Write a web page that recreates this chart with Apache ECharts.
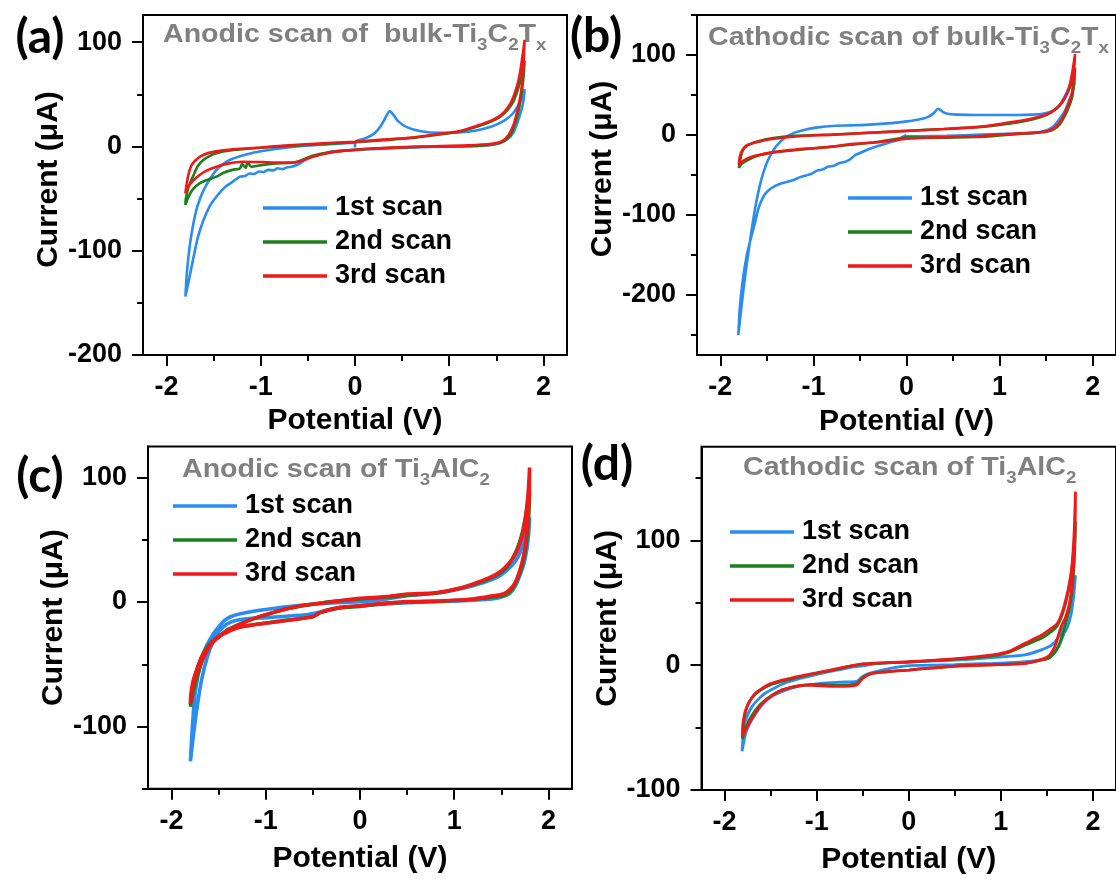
<!DOCTYPE html>
<html>
<head>
<meta charset="utf-8">
<title>Cyclic voltammetry scans</title>
<script src="https://cdn.jsdelivr.net/npm/echarts@6.0.0/dist/echarts.min.js"></script>
<style>
  html, body { margin: 0; padding: 0; background: #fff; }
  #chart { width: 1116px; height: 879px; }
</style>
</head>
<body>
<div id="chart"></div>
<script>
// ---- data (potential V, current uA), in scan order ----
const scanNames = ['1st scan', '2nd scan', '3rd scan'];
const scanColors = ['#2A8CF0', '#1B7F1B', '#F01818'];

const xMajorTicks = [-2, -1, 0, 1, 2];
const xMinorTicks = [-1.5, -0.5, 0.5, 1.5];

const aYMajor = [-200, -100, 0, 100];
const aYMinor = [-150, -50, 50];
const bYMajor = [-200, -100, 0, 100];
const bYMinor = [-250, -150, -50, 50, 150];
const cYMajor = [-100, 0, 100];
const cYMinor = [-150, -50, 50];
const dYMajor = [-100, 0, 100];
const dYMinor = [-50, 50, 150];

// (a) anodic scan, bulk Ti3C2Tx
const aScan1 = [
  [0, -1], [0.01, 5], [0.1, 7.5], [0.2, 12], [0.27, 19], [0.32, 27], [0.37, 34], [0.41, 30], [0.46, 24],
  [0.55, 18.5], [0.7, 14.5], [0.9, 13], [1.1, 13.3], [1.3, 15.5], [1.45, 19], [1.55, 23], [1.62, 27],
  [1.68, 32], [1.73, 39], [1.77, 47], [1.8, 55],
  [1.79, 45], [1.76, 33], [1.72, 22], [1.68, 13], [1.62, 7], [1.55, 3.5], [1.45, 1.5], [1.2, 0.3],
  [0.9, -0.3], [0.5, -1.5], [0.1, -3], [-0.2, -4.5], [-0.3, -6], [-0.4, -8.5], [-0.51, -11.4],
  [-0.57, -15.5], [-0.62, -17.8], [-0.67, -19.5], [-0.72, -20], [-0.77, -21.8], [-0.82, -21],
  [-0.87, -23], [-0.92, -22.5], [-0.97, -24.5], [-1.02, -24], [-1.07, -26.5], [-1.12, -26],
  [-1.17, -28.5], [-1.22, -29], [-1.3, -34], [-1.38, -39], [-1.47, -48], [-1.54, -57], [-1.61, -71],
  [-1.67, -88], [-1.72, -109], [-1.76, -127], [-1.8, -144],
  [-1.785, -122], [-1.755, -96], [-1.72, -76], [-1.684, -61], [-1.64, -49], [-1.596, -40], [-1.53, -30],
  [-1.47, -22.6], [-1.4, -17], [-1.33, -13], [-1.22, -9.5], [-1.1, -6.5], [-0.95, -4], [-0.8, -2],
  [-0.5, 0.8], [-0.2, 2.5], [0, 3.5]
];
const aScan2 = [
  [0, 4], [0.3, 6], [0.6, 8], [0.9, 11.5], [1.1, 14], [1.3, 19], [1.45, 24], [1.55, 29], [1.62, 35],
  [1.68, 43], [1.73, 55], [1.77, 68], [1.8, 82],
  [1.79, 68], [1.77, 52], [1.74, 36], [1.7, 22], [1.65, 11], [1.58, 5], [1.48, 2], [1.3, 0.5], [1.0, 0],
  [0.6, -0.5], [0.2, -2], [-0.1, -4], [-0.3, -6], [-0.45, -9], [-0.55, -12.5], [-0.65, -15.5],
  [-0.87, -16.5], [-1.0, -18], [-1.1, -19.5], [-1.14, -15.5], [-1.16, -20.5], [-1.2, -17], [-1.22, -21],
  [-1.3, -22.5], [-1.4, -25.5], [-1.47, -29], [-1.58, -32.5], [-1.65, -35.5], [-1.72, -41], [-1.77, -49],
  [-1.8, -56],
  [-1.795, -50], [-1.77, -40], [-1.745, -34], [-1.72, -29], [-1.67, -19], [-1.61, -13], [-1.54, -9],
  [-1.47, -6.5], [-1.35, -4.2], [-1.2, -2.7], [-1.0, -1.3], [-0.7, 0.5], [-0.4, 2], [0, 4]
];
const aScan3 = [
  [0, 4.5], [0.3, 6.5], [0.6, 8.5], [0.9, 12], [1.1, 14.5], [1.3, 20], [1.45, 25], [1.55, 30], [1.62, 37],
  [1.67, 45], [1.72, 58], [1.75, 70], [1.78, 88], [1.8, 102],
  [1.79, 82], [1.775, 62], [1.755, 48], [1.72, 33], [1.68, 20], [1.63, 11], [1.56, 5], [1.45, 2.5],
  [1.2, 1], [0.8, 0], [0.4, -1], [0.1, -2.5], [-0.2, -5], [-0.35, -7.5], [-0.45, -10], [-0.52, -12.5],
  [-0.62, -15], [-0.8, -15.5], [-1.0, -15], [-1.2, -14.7], [-1.35, -16.5], [-1.47, -19.4], [-1.57, -23],
  [-1.65, -27.4], [-1.72, -33], [-1.77, -38.6], [-1.8, -45],
  [-1.79, -38], [-1.77, -28], [-1.74, -19], [-1.7, -14], [-1.64, -9.5], [-1.55, -6.2], [-1.4, -3.8],
  [-1.25, -2.5], [-1.0, -1], [-0.7, 1], [-0.34, 3], [0, 4.5]
];

// (b) cathodic scan, bulk Ti3C2Tx
const bScan1 = [
  [0, 0], [-0.05, -3], [-0.1, -6.3], [-0.2, -10], [-0.3, -13.5], [-0.4, -17.5], [-0.48, -21.5],
  [-0.55, -25], [-0.6, -30], [-0.656, -33.5], [-0.72, -35], [-0.78, -38.5], [-0.84, -39.5], [-0.9, -43],
  [-0.96, -44.5], [-1.02, -48.5], [-1.08, -50.5], [-1.15, -53], [-1.22, -56.6], [-1.3, -59], [-1.38, -62],
  [-1.43, -65], [-1.49, -70], [-1.54, -77.6], [-1.59, -92], [-1.63, -111], [-1.68, -133], [-1.72, -153],
  [-1.76, -183], [-1.79, -216], [-1.806, -250],
  [-1.78, -222], [-1.753, -195], [-1.72, -165], [-1.68, -132], [-1.645, -105], [-1.61, -82],
  [-1.575, -63], [-1.54, -48], [-1.49, -32], [-1.43, -19], [-1.36, -9], [-1.29, -2], [-1.2, 3],
  [-1.08, 7], [-0.95, 9.5], [-0.8, 11.3], [-0.6, 12], [-0.44, 12.6], [-0.2, 14.5], [0, 17], [0.12, 19],
  [0.22, 22], [0.29, 27], [0.34, 32.8], [0.39, 29], [0.44, 26.5], [0.55, 25.5], [0.75, 25], [1.0, 25],
  [1.2, 25], [1.35, 25.5], [1.46, 26.5], [1.55, 29], [1.62, 34], [1.67, 42], [1.72, 53], [1.76, 63],
  [1.79, 72], [1.806, 78],
  [1.8, 62], [1.78, 52], [1.75, 44.5], [1.7, 30], [1.64, 19.3], [1.58, 11], [1.52, 6.7], [1.4, 3],
  [1.185, 1.7], [0.8, 0.5], [0.43, -1], [0.15, -1.5], [0, -1.7]
];
const bScan2 = [
  [0, -3], [-0.3, -8.5], [-0.7, -13.5], [-1.07, -17.5], [-1.45, -22], [-1.6, -26], [-1.7, -31],
  [-1.77, -36], [-1.8, -41],
  [-1.79, -33], [-1.76, -20], [-1.71, -13], [-1.6, -8], [-1.45, -4], [-1.2, -1], [-0.8, 0.5],
  [-0.3, 3.5], [0.4, 7.5], [0.8, 10], [1.1, 14], [1.3, 18], [1.46, 23], [1.56, 29], [1.64, 36],
  [1.7, 46], [1.75, 58], [1.79, 72], [1.81, 84],
  [1.8, 66], [1.78, 48], [1.74, 34], [1.7, 24], [1.65, 14], [1.58, 7], [1.5, 4], [1.39, 3], [1.1, 0.5],
  [0.756, -2.5], [0.3, -3.5], [0, -3]
];
const bScan3 = [
  [0, -4.5], [-0.306, -9], [-0.62, -11.5], [-0.8, -14.7], [-1.07, -17], [-1.3, -19.5], [-1.5, -23],
  [-1.67, -27.5], [-1.75, -32], [-1.8, -37],
  [-1.79, -27], [-1.76, -18], [-1.71, -12.5], [-1.575, -8], [-1.45, -5], [-1.33, -3.4], [-1.07, -1],
  [-0.8, 0.4], [-0.306, 3.3], [0.4, 7.5], [0.8, 10.5], [1.11, 15.8], [1.3, 19.5], [1.46, 24],
  [1.56, 29], [1.64, 36.6], [1.7, 46], [1.746, 59.6], [1.78, 78], [1.81, 101],
  [1.8, 80], [1.78, 55], [1.745, 40], [1.71, 30], [1.66, 18], [1.6, 10], [1.52, 5], [1.39, 3],
  [1.185, 1.7], [0.756, -1.5], [0.3, -3], [0, -4.5]
];

// (c) anodic scan, Ti3AlC2
const cScan1 = [
  [0, 0.3], [0.2, 1.5], [0.5, 5], [0.8, 7], [1.0, 9.5], [1.2, 13], [1.4, 18], [1.5, 22], [1.58, 27],
  [1.65, 33], [1.7, 40], [1.74, 50], [1.78, 60], [1.8, 68],
  [1.79, 55], [1.77, 42], [1.74, 31], [1.7, 22], [1.65, 13], [1.59, 7], [1.5, 4], [1.4, 2.5],
  [1.2, 1.5], [0.9, 0.5], [0.5, -0.5], [0.2, -2], [0, -3], [-0.2, -4.5], [-0.35, -6.5], [-0.45, -8.5],
  [-0.55, -10], [-0.8, -11.5], [-1.0, -12.5], [-1.2, -13.5], [-1.33, -15], [-1.42, -18], [-1.5, -24],
  [-1.56, -32], [-1.62, -44], [-1.68, -62], [-1.73, -85], [-1.77, -108], [-1.8, -128],
  [-1.785, -108], [-1.765, -85], [-1.74, -68], [-1.7, -52], [-1.64, -37], [-1.56, -26], [-1.5, -20],
  [-1.44, -15], [-1.38, -12], [-1.27, -9.5], [-1.1, -7], [-0.9, -5], [-0.6, -2.5], [-0.3, -0.8], [0, 0.3]
];
const cScan2 = [
  [0, 2.5], [0.3, 4], [0.5, 5.5], [0.8, 7], [1.0, 10], [1.2, 14], [1.38, 19], [1.5, 24], [1.56, 28],
  [1.62, 35], [1.67, 43], [1.72, 55], [1.76, 70], [1.8, 89],
  [1.79, 68], [1.77, 50], [1.74, 35], [1.7, 24], [1.65, 15], [1.6, 9], [1.52, 5], [1.41, 4], [1.2, 2.2],
  [0.9, 0.8], [0.5, 0], [0.2, -1.5], [0, -3.5], [-0.21, -4.5], [-0.42, -8.5], [-0.49, -11.5],
  [-0.6, -13], [-0.92, -16], [-1.27, -20], [-1.45, -25], [-1.59, -34], [-1.66, -44], [-1.72, -58],
  [-1.77, -72], [-1.8, -84],
  [-1.79, -75], [-1.76, -62], [-1.73, -54], [-1.68, -44], [-1.63, -37], [-1.56, -31], [-1.485, -27],
  [-1.4, -22], [-1.27, -17.5], [-1.1, -12.5], [-0.92, -8.5], [-0.75, -5], [-0.57, -2.5], [-0.3, 0.5],
  [0, 2.5]
];
const cScan3 = [
  [0, 3], [0.3, 4.5], [0.5, 6.4], [0.8, 7.5], [1.025, 10.4], [1.2, 14.5], [1.38, 19.8], [1.48, 24],
  [1.555, 29], [1.62, 35], [1.66, 40], [1.7, 48], [1.73, 56], [1.76, 70], [1.785, 88], [1.8, 108],
  [1.795, 85], [1.78, 65], [1.76, 48], [1.73, 35], [1.7, 26.5], [1.65, 16], [1.59, 10], [1.52, 6.5],
  [1.41, 5], [1.2, 2.4], [0.9, 1], [0.5, 0.3], [0.2, -1.5], [0, -3], [-0.21, -4.3], [-0.42, -8.3],
  [-0.49, -11.5], [-0.6, -13], [-0.92, -16.3], [-1.27, -20], [-1.45, -25.7], [-1.59, -35], [-1.7, -51],
  [-1.77, -67], [-1.8, -82],
  [-1.795, -74], [-1.77, -63], [-1.73, -54], [-1.68, -44], [-1.63, -38], [-1.56, -31.5], [-1.485, -27],
  [-1.4, -22.5], [-1.27, -17.7], [-1.1, -12.5], [-0.92, -8.3], [-0.75, -5], [-0.57, -2.4], [-0.21, 1],
  [0, 3]
];

// (d) cathodic scan, Ti3AlC2
const dScan1 = [
  [0, -0.4], [-0.2, -2.5], [-0.43, -6.5], [-0.5, -9], [-0.57, -13], [-0.7, -13.5], [-0.85, -14],
  [-1.0, -15], [-1.2, -17], [-1.35, -20.5], [-1.49, -25], [-1.58, -31], [-1.66, -38.6], [-1.72, -46],
  [-1.77, -54.6], [-1.81, -69],
  [-1.8, -58], [-1.79, -49], [-1.75, -40], [-1.7, -33], [-1.63, -27], [-1.56, -22.5], [-1.45, -18],
  [-1.35, -14.5], [-1.2, -11], [-1.03, -7.9], [-0.85, -5], [-0.68, -2.5], [-0.5, -0.5], [-0.32, 1.5],
  [0, 2.5], [0.3, 3.5], [0.557, 4.2], [0.9, 6], [1.26, 8.2], [1.44, 12.2], [1.55, 16], [1.62, 22],
  [1.68, 30], [1.72, 39], [1.774, 57.6], [1.81, 72],
  [1.79, 55], [1.76, 40], [1.72, 30], [1.686, 25.5], [1.63, 15], [1.58, 9.5], [1.5, 5.5], [1.44, 4.2],
  [1.2, 2.5], [0.91, 1.5], [0.5, 0.5], [0, -0.4]
];
const dScan2 = [
  [0, -3.9], [-0.395, -6.5], [-0.5, -10], [-0.57, -15], [-0.78, -16], [-1.0, -15.5], [-1.135, -16],
  [-1.38, -20], [-1.59, -30], [-1.7, -40], [-1.77, -50], [-1.805, -59],
  [-1.8, -50], [-1.785, -42], [-1.75, -32], [-1.7, -26], [-1.62, -20.5], [-1.49, -15.5], [-1.21, -9.7],
  [-0.85, -4.2], [-0.5, 0.8], [0, 2.5], [0.557, 5], [0.91, 7.5], [1.086, 10.3], [1.26, 16], [1.44, 21.5],
  [1.55, 27], [1.615, 32], [1.686, 45], [1.74, 62], [1.775, 80], [1.81, 115],
  [1.8, 88], [1.78, 66], [1.75, 48], [1.7, 32], [1.65, 20], [1.6, 12], [1.53, 6], [1.474, 4.5],
  [1.26, 1.5], [0.557, -0.6], [0, -3.9]
];
const dScan3 = [
  [0, -3.9], [-0.395, -6.5], [-0.5, -10.5], [-0.57, -16], [-0.78, -17], [-0.95, -16.5], [-1.135, -16],
  [-1.38, -20], [-1.59, -30.6], [-1.735, -46.6], [-1.805, -57],
  [-1.8, -47], [-1.785, -40], [-1.77, -36], [-1.72, -28], [-1.665, -22.5], [-1.58, -18], [-1.49, -14.5],
  [-1.21, -9.2], [-0.85, -3.9], [-0.5, 1], [0, 2.8], [0.557, 5.5], [0.91, 8.2], [1.086, 11], [1.26, 17.5],
  [1.44, 24], [1.54, 29], [1.615, 33.5], [1.686, 47], [1.757, 71], [1.79, 97.6], [1.81, 139],
  [1.805, 105], [1.79, 80], [1.77, 62], [1.74, 48], [1.7, 38], [1.65, 30], [1.61, 20], [1.58, 14],
  [1.53, 8], [1.474, 5.5], [1.26, 1.5], [0.557, -0.6], [0, -3.9]
];

const panelTitles = [
  '{m|Anodic scan of  bulk-Ti}{s|3}{m|C}{s|2}{m|T}{s|x}',
  '{m|Cathodic scan of bulk-Ti}{s|3}{m|C}{s|2}{m|T}{s|x}',
  '{m|Anodic scan of Ti}{s|3}{m|AlC}{s|2}',
  '{m|Cathodic scan of Ti}{s|3}{m|AlC}{s|2}'
];
const panelTags = ['(a)', '(b)', '(c)', '(d)'];

// ---- layout ----
const FONT = '"Liberation Sans", Arial, sans-serif';
const TAG_FONT = 'Lato, "Open Sans", sans-serif';

const panels = [
  { scans: [aScan1, aScan2, aScan3], yMin: -200, yMax: 126, yMajor: aYMajor, yMinor: aYMinor },
  { scans: [bScan1, bScan2, bScan3], yMin: -275, yMax: 150, yMajor: bYMajor, yMinor: bYMinor },
  { scans: [cScan1, cScan2, cScan3], yMin: -150, yMax: 125, yMajor: cYMajor, yMinor: cYMinor },
  { scans: [dScan1, dScan2, dScan3], yMin: -100, yMax: 175, yMajor: dYMajor, yMinor: dYMinor }
];

const layout = [
  { grid: { left: 143, top: 15, width: 424, height: 340 }, lw: 2.6, legend: { left: 263, top: 191 },
    title: [163, 21.6], tag: [40, 38], xNameGap: 51, yNamePad: 11 },
  { grid: { left: 697, top: 15, width: 424, height: 340 }, lw: 2.6, legend: { left: 848, top: 181 },
    title: [708, 25], tag: [596, 37], xNameGap: 52, yNamePad: 32 },
  { grid: { left: 148, top: 446.4, width: 424, height: 342.4 }, lw: 3.6, legend: { left: 173, top: 489 },
    title: [182, 456.6], tag: [40, 477], xNameGap: 55, yNamePad: 0 },
  { grid: { left: 701.5, top: 446.7, width: 424, height: 343.3 }, lw: 2.8, legend: { left: 730, top: 515 },
    title: [743, 454.6], tag: [607, 465], xNameGap: 55, yNamePad: 0 }
];

const labelStyle = { fontSize: 27, fontWeight: 'bold', color: '#000', fontFamily: FONT };
const nameStyle = { fontSize: 30, fontWeight: 'bold', color: '#000', fontFamily: FONT };
const lineBlack = { color: '#000', width: 2 };

const grid = [], xAxis = [], yAxis = [], series = [], legend = [], graphic = [];

panels.forEach((p, i) => {
  const L = layout[i];
  grid.push(Object.assign({ show: true, borderColor: '#000', borderWidth: 2 }, L.grid));

  xAxis.push({
    gridIndex: i, type: 'value', position: 'bottom', min: -2.25, max: 2.25,
    axisLine: { show: true, onZero: false, lineStyle: lineBlack },
    axisTick: { show: true, inside: false, length: 11, customValues: xMajorTicks, lineStyle: lineBlack },
    axisLabel: Object.assign({ customValues: xMajorTicks, margin: 19 }, labelStyle),
    splitLine: { show: false },
    name: 'Potential (V)', nameLocation: 'middle', nameGap: L.xNameGap, nameTextStyle: nameStyle
  });
  xAxis.push({
    gridIndex: i, type: 'value', position: 'bottom', min: -2.25, max: 2.25,
    axisLine: { show: false, onZero: false },
    axisTick: { show: true, inside: false, length: 6, customValues: xMinorTicks, lineStyle: lineBlack },
    axisLabel: { show: false }, splitLine: { show: false }
  });
  yAxis.push({
    gridIndex: i, type: 'value', position: 'left', min: p.yMin, max: p.yMax,
    axisLine: { show: true, onZero: false, lineStyle: lineBlack },
    axisTick: { show: true, inside: false, length: 11, customValues: p.yMajor, lineStyle: lineBlack },
    axisLabel: Object.assign({ customValues: p.yMajor, margin: 21 }, labelStyle),
    splitLine: { show: false },
    name: 'Current (\u03bcA)', nameLocation: 'middle', nameGap: 79, nameRotate: 90,
    nameTextStyle: Object.assign({ padding: [0, 0, 0, L.yNamePad] }, nameStyle)
  });
  yAxis.push({
    gridIndex: i, type: 'value', position: 'left', min: p.yMin, max: p.yMax,
    axisLine: { show: false, onZero: false },
    axisTick: { show: true, inside: false, length: 6, customValues: p.yMinor, lineStyle: lineBlack },
    axisLabel: { show: false }, splitLine: { show: false }
  });

  p.scans.forEach((d, k) => {
    series.push({
      type: 'line', name: scanNames[k], xAxisIndex: 2 * i, yAxisIndex: 2 * i, data: d,
      symbol: 'none', smooth: 0.25, color: scanColors[k],
      lineStyle: { width: L.lw, color: scanColors[k] }, z: 2 + k, silent: true
    });
  });

  legend.push({
    data: scanNames, orient: 'vertical', left: L.legend.left, top: L.legend.top,
    padding: 0, itemGap: 0, itemWidth: 64, itemHeight: 3.5, icon: 'rect', selectedMode: false,
    textStyle: { fontSize: 27, fontWeight: 'bold', color: '#000', fontFamily: FONT, lineHeight: 34, padding: [0, 0, 0, 3] }
  });

  graphic.push({
    type: 'text', x: L.title[0], y: L.title[1], scaleX: 1.1, silent: true,
    style: {
      text: panelTitles[i], x: 0, y: 0, align: 'left', verticalAlign: 'top',
      rich: {
        m: { fontSize: 26, fontWeight: 'bold', fontFamily: FONT, fill: '#808080', verticalAlign: 'bottom', padding: [0, 0, 6, 0] },
        s: { fontSize: 17, fontWeight: 'bold', fontFamily: FONT, fill: '#808080', verticalAlign: 'bottom' }
      }
    }
  });
  graphic.push({
    type: 'text', x: L.tag[0], y: L.tag[1], silent: true,
    style: {
      text: panelTags[i], x: 0, y: 0, align: 'center', verticalAlign: 'middle',
      fontSize: 48, fontWeight: 'bold', fontFamily: TAG_FONT, fill: '#000'
    }
  });
});

const chart = echarts.init(document.getElementById('chart'));
chart.setOption({
  backgroundColor: '#fff',
  animation: false,
  grid: grid,
  xAxis: xAxis,
  yAxis: yAxis,
  legend: legend,
  graphic: graphic,
  series: series
});
</script>
</body>
</html>
